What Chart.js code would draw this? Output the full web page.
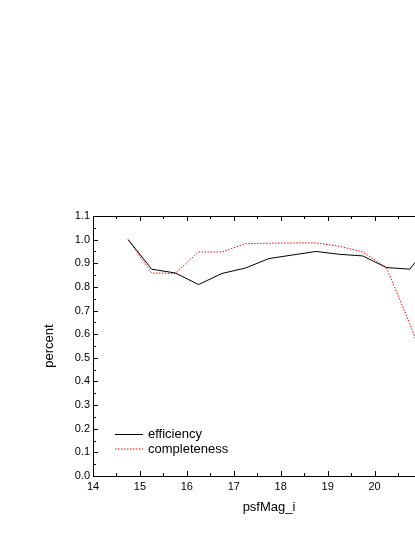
<!DOCTYPE html>
<html>
<head>
<meta charset="utf-8">
<script src="https://cdn.jsdelivr.net/npm/chart.js@4/dist/chart.umd.min.js"></script>
<style>
    html, body { margin: 0; padding: 0; background: #fff; overflow: hidden; width: 415px; height: 537px; }
    #wrap { width: 470px; height: 537px; }
</style>
</head>
<body>
<div id="wrap"><canvas id="magChart" width="470" height="537"></canvas></div>
<script>
var magnitudes = [14.75, 15.25, 15.75, 16.25, 16.75, 17.25, 17.75, 18.25, 18.75, 19.25, 19.75, 20.25, 20.75, 21.25];
var efficiency = [1.0, 0.875, 0.859, 0.810, 0.857, 0.880, 0.920, 0.935, 0.950, 0.938, 0.931, 0.882, 0.875, 1.0];
var completeness = [1.0, 0.859, 0.857, 0.948, 0.948, 0.983, 0.985, 0.986, 0.986, 0.972, 0.948, 0.882, 0.645, 0.37];
var seriesLabels = ['efficiency', 'completeness'];
var xAxisTitle = 'psfMag_i';
var yAxisTitle = 'percent';

(function () {
    var FONT = '"Liberation Sans", Arial, Helvetica, sans-serif';

    function toPoints(values) {
        return values.map(function (v, i) { return { x: magnitudes[i], y: v }; });
    }

    // inward ticks on bottom, top and left, plus the top frame line
    var frameTicks = {
        id: 'frameTicks',
        afterDatasetsDraw: function (chart) {
            var ctx = chart.ctx;
            var area = chart.chartArea;
            var xs = chart.scales.x;
            var ys = chart.scales.y;
            ctx.save();
            ctx.strokeStyle = '#000';
            ctx.lineWidth = 1;
            ctx.beginPath();
            ctx.moveTo(area.left, area.top + 0.5);
            ctx.lineTo(area.right, area.top + 0.5);
            var v, px, len;
            for (v = xs.min; v <= xs.max + 1e-9; v += 0.5) {
                px = Math.round(xs.getPixelForValue(v)) + 0.5;
                len = Math.abs(v - Math.round(v)) < 1e-6 ? 5 : 3;
                ctx.moveTo(px, area.bottom);
                ctx.lineTo(px, area.bottom - len);
                ctx.moveTo(px, area.top);
                ctx.lineTo(px, area.top + len);
            }
            for (var k = 0; k <= 22; k++) {
                v = k * 0.05;
                px = Math.round(ys.getPixelForValue(v)) + 0.5;
                len = k % 2 === 0 ? 5 : 3;
                ctx.moveTo(area.left, px);
                ctx.lineTo(area.left + len, px);
            }
            ctx.stroke();
            ctx.restore();
        }
    };

    // legend inside the plot, lower left
    var innerLegend = {
        id: 'innerLegend',
        afterDraw: function (chart) {
            var ctx = chart.ctx;
            ctx.save();
            ctx.font = '13px ' + FONT;
            ctx.textBaseline = 'middle';
            ctx.fillStyle = '#000';
            chart.data.datasets.forEach(function (ds, i) {
                var y = 434.5 + i * 14.5;
                ctx.strokeStyle = ds.borderColor;
                ctx.lineWidth = ds.borderWidth;
                ctx.setLineDash(ds.borderDash || []);
                ctx.beginPath();
                ctx.moveTo(115, y);
                ctx.lineTo(143, y);
                ctx.stroke();
                ctx.setLineDash([]);
                ctx.fillText(ds.label, 148, y);
            });
            ctx.restore();
        }
    };

    function initChart() {
        var el = document.getElementById('magChart');
        if (!el || !window.Chart) {
            return;
        }

        new Chart(el.getContext('2d'), {
            type: 'line',
            data: {
                datasets: [{
                    label: seriesLabels[0],
                    data: toPoints(efficiency),
                    borderColor: '#000000',
                    borderWidth: 1,
                    pointRadius: 0,
                    tension: 0,
                    fill: false
                }, {
                    label: seriesLabels[1],
                    data: toPoints(completeness),
                    borderColor: '#ff0000',
                    borderWidth: 1,
                    borderDash: [1.5, 1.5],
                    pointRadius: 0,
                    tension: 0,
                    fill: false
                }]
            },
            options: {
                responsive: false,
                animation: false,
                devicePixelRatio: 1,
                layout: { padding: { left: 0, right: 25, top: 216, bottom: 0 } },
                plugins: {
                    legend: { display: false },
                    tooltip: { enabled: false }
                },
                scales: {
                    x: {
                        type: 'linear',
                        min: 14,
                        max: 21.5,
                        afterFit: function (scale) { scale.height = 61; },
                        grid: { display: false, drawTicks: false },
                        border: { display: true, color: '#000', width: 1 },
                        ticks: {
                            stepSize: 1,
                            padding: 4,
                            maxRotation: 0,
                            autoSkip: false,
                            color: '#000',
                            font: { family: FONT, size: 11 },
                            callback: function (value) {
                                return Number.isInteger(value) ? String(value) : '';
                            }
                        },
                        title: {
                            display: true,
                            text: xAxisTitle,
                            color: '#000',
                            font: { family: FONT, size: 13 },
                            padding: { top: 0, bottom: 22 }
                        }
                    },
                    y: {
                        min: 0,
                        max: 1.1,
                        afterFit: function (scale) { scale.width = 93; },
                        grid: { display: false, drawTicks: false },
                        border: { display: true, color: '#000', width: 1 },
                        ticks: {
                            stepSize: 0.1,
                            padding: 3,
                            autoSkip: false,
                            color: '#000',
                            font: { family: FONT, size: 11 },
                            callback: function (value) {
                                return Number.parseFloat(value).toFixed(1);
                            }
                        },
                        title: {
                            display: true,
                            text: yAxisTitle,
                            color: '#000',
                            font: { family: FONT, size: 13 },
                            padding: { top: 42, bottom: 0 }
                        }
                    }
                }
            },
            plugins: [frameTicks, innerLegend]
        });
    }

    if (document.readyState === 'loading') {
        document.addEventListener('DOMContentLoaded', initChart);
    } else {
        initChart();
    }
})();
</script>
</body>
</html>
